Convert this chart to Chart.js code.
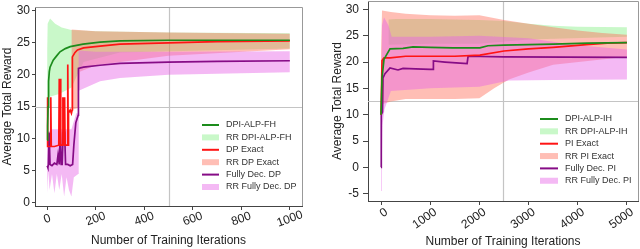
<!DOCTYPE html>
<html>
<head>
<meta charset="utf-8">
<script src="https://cdn.jsdelivr.net/npm/chart.js@4"></script>
<style>
  body { margin: 0; background: #fff; }
  .wrap { position: absolute; top: 0; width: 320px; height: 249px; }
</style>
</head>
<body>
<div class="wrap" style="left:0"><canvas id="leftChart" width="320" height="249"></canvas></div>
<div class="wrap" style="left:320px"><canvas id="rightChart" width="320" height="249"></canvas></div>
<script>
// ---- left panel: finite horizon ----
const fhNames = ['DPI-ALP-FH', 'DP Exact', 'Fully Dec. DP'];
const fhXTicks = [0, 200, 400, 600, 800, 1000];
const fhYTicks = [0, 5, 10, 15, 20, 25, 30];

const fhDpiAlp = [[0,9.8],[2,12],[4,15],[6,19],[9,20.5],[12,21.2],[25,22.3],[40,23],[53,23.6],[75,24.1],[95,24.4],[148,24.8],[218,25.1],[300,25.3],[500,25.4],[1000,25.4]];
const fhDpExact = [[0,8.8],[1,16.5],[3,8.8],[13,8.8],[15,16.5],[17,8.8],[30,8.8],[48,9],[50,19.4],[53,9],[55,19.4],[57,9],[63,9],[65,16.5],[67,9],[72,16.5],[74,9],[83,9],[85,21.6],[87,9],[88,14],[95,14.5],[100,14],[103,14.5],[104,22.8],[115,23.5],[125,23.9],[150,24.2],[218,24.5],[300,24.8],[500,25],[700,25.2],[1000,25.3]];
const fhFullyDec = [[0,5.8],[3,5.5],[5,6],[8,11],[12,6],[20,5.8],[30,6.2],[40,6],[45,7.5],[50,6],[54,11],[58,6],[62,6],[66,11],[72,11],[76,6],[85,6],[95,5.8],[105,6],[110,9],[118,12.5],[128,13.7],[129,21],[150,21.2],[218,21.5],[300,21.8],[500,22],[700,22.1],[1000,22.2]];

const fhDpiAlpHi = [[0,24],[2,28],[12,28.8],[33,28],[60,27.4],[100,27],[200,26.8],[500,26.6],[1000,26.5]];
const fhDpiAlpLo = [[0,9.5],[4,16.5],[50,17],[100,18],[150,22],[300,23.5],[1000,24.1]];
const fhDpExactHi = [[100,27.1],[200,26.8],[500,26.6],[1000,26.4]];
const fhDpExactLo = [[100,14.5],[128,14.8],[135,20.5],[200,21.5],[500,23],[1000,24]];
const fhFullyDecHi = [[0,11],[20,11.5],[100,11.5],[120,14],[128,14],[130,23.8],[200,23.6],[500,23.6],[1000,23.7]];
const fhFullyDecLo = [[0,1.5],[5,5],[10,2],[20,4.5],[30,1.5],[40,4.5],[50,2],[60,4.5],[70,1],[80,4],[90,2],[100,1],[110,4],[128,4.5],[130,17.5],[218,19],[300,19.5],[500,20],[1000,20.4]];

// ---- right panel: infinite horizon ----
const ihNames = ['DPI-ALP-IH', 'PI Exact', 'Fully Dec. PI'];
const ihXTicks = [0, 1000, 2000, 3000, 4000, 5000];
const ihYTicks = [-5, 0, 5, 10, 15, 20, 25, 30];

const ihDpiAlp = [[0,10],[20,17],[60,20.5],[120,21.5],[183,22.5],[447,22.6],[650,22.9],[1000,22.8],[1460,22.7],[2010,22.7],[2175,23.1],[2500,23.2],[3500,23.4],[4200,23.6],[5000,23.7]];
const ihPiExact = [[0,10],[20,20.3],[60,20.8],[183,20.8],[500,21.1],[1000,21.1],[1500,21.1],[2010,21.3],[2500,22.1],[3000,22.5],[3500,22.8],[4175,23.3],[4600,23.6],[5000,23.7]];
const ihFullyDec = [[0,0],[5,10],[30,10.5],[40,17],[80,17.8],[183,18.9],[345,18.5],[447,18.8],[700,18.7],[1000,18.6],[1060,18.6],[1065,20.2],[1300,20],[1750,19.7],[1770,21.1],[2500,21],[5000,20.9]];

const ihDpiAlpHi = [[150,28.1],[300,28.2],[1000,28.2],[2000,28],[2500,27.8],[3000,27.3],[3500,26.9],[4000,26.7],[5000,26.6]];
const ihDpiAlpLo = [[150,23.3],[1000,23.5],[2000,23.5],[3000,24.3],[5000,24.8]];
const ihPiExactHi = [[0,22],[20,29.8],[200,29.5],[500,29.2],[1000,28.9],[1500,28.8],[2000,28.9],[2500,28],[3000,27.3],[3500,26.6],[4000,26],[4500,25.5],[5000,25.2]];
const ihPiExactLo = [[0,8],[20,12],[200,12.5],[500,13],[1000,13],[1500,13],[2000,13.1],[2300,15],[2600,16.7],[3000,18],[3500,19.5],[5000,21]];
const ihFullyDecHi = [[0,10],[20,27],[60,28.5],[150,27],[217,24.8],[1000,24.8],[2000,25],[3000,24.5],[4000,23.2],[5000,22.4]];
const ihFullyDecLo = [[0,-4.5],[15,0],[30,8],[70,11],[200,14.5],[1000,15],[2000,15.3],[2600,16.5],[3500,16.6],[5000,16.7]];

const LINE_COLORS = ['#1c8c1c', '#ff1414', '#860c86'];
const BAND_COLORS = ['rgba(100,235,100,0.35)', 'rgba(255,110,90,0.45)', 'rgba(230,100,230,0.45)'];

Chart.defaults.font.family = "'Liberation Sans', Arial, sans-serif";
Chart.defaults.color = '#222';

const toXY = pts => pts.map(p => ({ x: p[0], y: p[1] }));

function decor(cfg) {
  return {
    id: 'decor',
    beforeDatasetsDraw(chart) {
      const { ctx, chartArea: a } = chart;
      const mx = Math.round((a.left + a.right) / 2) + 0.5;
      const my = Math.round((a.top + a.bottom) / 2) + 0.5;
      ctx.save();
      ctx.strokeStyle = '#c4c4c4';
      ctx.lineWidth = 1.2;
      ctx.beginPath();
      ctx.moveTo(mx, a.top); ctx.lineTo(mx, a.bottom);
      ctx.moveTo(a.left, my); ctx.lineTo(a.right, my);
      ctx.stroke();
      ctx.restore();
    },
    afterDraw(chart) {
      const { ctx, chartArea: a } = chart;
      ctx.save();
      // top/right frame
      ctx.strokeStyle = '#999';
      ctx.lineWidth = 1;
      ctx.beginPath();
      ctx.moveTo(a.left, a.top + 0.5); ctx.lineTo(a.right + 0.5, a.top + 0.5); ctx.lineTo(a.right + 0.5, a.bottom);
      ctx.stroke();

      // rotated x tick labels
      const xs = chart.scales.x;
      ctx.font = "12px 'Liberation Sans', Arial, sans-serif";
      ctx.fillStyle = '#222';
      xs.ticks.forEach(t => {
        const px = xs.getPixelForValue(t.value);
        ctx.save();
        ctx.translate(px + cfg.lblDx, xs.top + cfg.lblDy);
        ctx.rotate(-cfg.lblRot * Math.PI / 180);
        ctx.textAlign = cfg.lblAlign;
        ctx.textBaseline = cfg.lblBase;
        ctx.fillText(String(t.value), 0, 0);
        ctx.restore();
      });

      // legend
      ctx.font = "9px 'Liberation Sans', Arial, sans-serif";
      ctx.textBaseline = 'middle';
      ctx.textAlign = 'left';
      cfg.names.forEach((name, i) => {
        const y1 = cfg.legY + (2 * i) * cfg.legDy;
        const y2 = y1 + cfg.legDy;
        ctx.strokeStyle = LINE_COLORS[i];
        ctx.lineWidth = 2;
        ctx.beginPath();
        ctx.moveTo(cfg.legX, y1); ctx.lineTo(cfg.legX + cfg.legW, y1);
        ctx.stroke();
        ctx.fillStyle = BAND_COLORS[i];
        ctx.fillRect(cfg.legX, y2 - 3, cfg.legW, 6);
        ctx.fillStyle = '#333';
        ctx.fillText(name, cfg.legTx, y1);
        ctx.fillText('RR ' + name, cfg.legTx, y2);
      });
      ctx.restore();
    }
  };
}

function makeChart(id, cfg) {
  const datasets = [];
  cfg.lines.forEach((pts, i) => {
    datasets.push({
      label: cfg.names[i], data: toXY(pts), borderColor: LINE_COLORS[i],
      borderWidth: 1.7, pointRadius: 0, fill: false, order: i
    });
  });
  cfg.bands.forEach((b, i) => {
    datasets.push({
      label: 'RR ' + cfg.names[i] + ' upper', data: toXY(b[0]), borderColor: 'transparent',
      borderWidth: 0, pointRadius: 0, fill: false, order: 12 - i
    });
    datasets.push({
      label: 'RR ' + cfg.names[i], data: toXY(b[1]), borderColor: 'transparent',
      borderWidth: 0, pointRadius: 0, backgroundColor: BAND_COLORS[i], fill: '-1', order: 12 - i
    });
  });

  return new Chart(document.getElementById(id), {
    type: 'line',
    data: { datasets },
    options: {
      responsive: false,
      animation: false,
      events: [],
      layout: { padding: cfg.pad },
      plugins: { legend: { display: false }, tooltip: { enabled: false } },
      scales: {
        x: {
          type: 'linear', min: cfg.xMin, max: cfg.xMax,
          afterBuildTicks: s => { s.ticks = cfg.xTicks.map(v => ({ value: v })); },
          afterFit: s => { s.height = cfg.xH; s.paddingLeft = 0; s.paddingRight = 0; },
          ticks: { display: false },
          grid: { drawOnChartArea: false, drawTicks: true, tickLength: 4, color: '#444' },
          border: { color: '#444' },
          title: { display: true, text: 'Number of Training Iterations', font: { size: 12 }, color: '#222', padding: { top: 0, bottom: cfg.xTitlePad } }
        },
        y: {
          min: cfg.yMin, max: cfg.yMax,
          afterBuildTicks: s => { s.ticks = cfg.yTicks.map(v => ({ value: v })); },
          afterFit: s => { s.width = cfg.yW; s.paddingTop = 0; s.paddingBottom = 0; },
          ticks: { font: { size: 12 }, color: '#222', padding: cfg.yTickPad },
          grid: { drawOnChartArea: false, drawTicks: true, tickLength: cfg.yTickLen, color: '#444' },
          border: { color: '#444' },
          title: { display: true, text: 'Average Total Reward', font: { size: 12 }, color: '#222', padding: { top: cfg.yTitlePad, bottom: 0 } }
        }
      }
    },
    plugins: [decor(cfg)]
  });
}

makeChart('leftChart', {
  names: fhNames,
  lines: [fhDpiAlp, fhDpExact, fhFullyDec],
  bands: [[fhDpiAlpHi, fhDpiAlpLo], [fhDpExactHi, fhDpExactLo], [fhFullyDecHi, fhFullyDecLo]],
  xTicks: fhXTicks, yTicks: fhYTicks,
  xMin: -50, xMax: 1050, yMin: -0.5, yMax: 30.6,
  pad: { top: 7, right: 18, left: 0, bottom: 0 },
  xH: 43, yW: 35, yTickLen: 3, yTickPad: 2, xTitlePad: 1, yTitlePad: 0,
  lblDx: 0, lblDy: 13, lblRot: 20, lblAlign: 'center', lblBase: 'middle',
  legX: 202, legW: 17, legTx: 226, legY: 125, legDy: 12.4
});

makeChart('rightChart', {
  names: ihNames,
  lines: [ihDpiAlp, ihPiExact, ihFullyDec],
  bands: [[ihDpiAlpHi, ihDpiAlpLo], [ihPiExactHi, ihPiExactLo], [ihFullyDecHi, ihFullyDecLo]],
  xTicks: ihXTicks, yTicks: ihYTicks,
  xMin: -265, xMax: 5225, yMin: -6.4, yMax: 31.6,
  pad: { top: 1, right: 2, left: 0, bottom: 0 },
  xH: 48, yW: 48, yTickLen: 5, yTickPad: 4, xTitlePad: 0, yTitlePad: 10,
  lblDx: 2, lblDy: 5, lblRot: 35, lblAlign: 'right', lblBase: 'top',
  legX: 220, legW: 18, legTx: 245, legY: 119, legDy: 12.35
});
</script>
</body>
</html>
